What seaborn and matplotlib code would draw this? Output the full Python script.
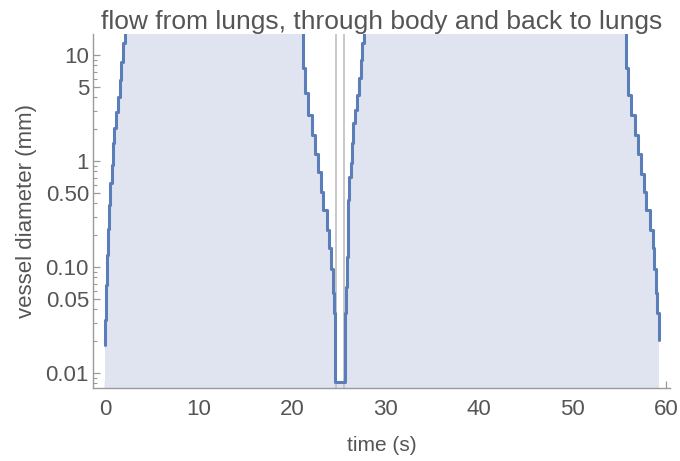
import matplotlib
matplotlib.use("Agg")
import matplotlib.pyplot as plt
import matplotlib.ticker as mticker
import numpy as np
import pandas as pd
import seaborn as sns

# step data: each point is (end of flat, diameter on that flat), drawn steps-pre
TOP = 30.0  # heart / aorta, off the chart

pulm_vein_t = [0.0, 0.07, 0.18, 0.29, 0.43, 0.57, 0.72, 0.82, 1.00, 1.18,
               1.36, 1.60, 1.71, 1.89, 2.11]
pulm_vein_d = [0.0184, 0.0316, 0.0676, 0.130, 0.228, 0.385, 0.620, 0.916, 1.48, 2.05,
               2.90, 4.02, 5.81, 8.59, 12.98]

arterial_t = [21.14, 21.39, 21.74, 22.11, 22.46, 22.81, 23.07, 23.35, 23.71, 23.99,
              24.20, 24.35, 24.49, 24.57, 24.63, 25.67]
arterial_d = [TOP, 7.50, 4.35, 2.72, 1.76, 1.18, 0.79, 0.513, 0.345, 0.223,
              0.150, 0.097, 0.0565, 0.0366, 0.0197, 0.00828]

venous_t = [25.72, 25.78, 25.85, 25.94, 26.02, 26.13, 26.28, 26.39, 26.56, 26.74,
            26.92, 27.20, 27.35, 27.52, 27.73, 55.72]
venous_d = [0.0197, 0.0368, 0.0647, 0.124, 0.238, 0.429, 0.706, 0.957, 1.48, 2.28,
            3.03, 4.19, 6.07, 8.97, 12.98, TOP]

pulm_art_t = [55.97, 56.33, 56.68, 57.04, 57.40, 57.68, 57.93, 58.29, 58.58, 58.75,
              58.93, 59.11, 59.25, 59.25]
pulm_art_d = [7.50, 4.19, 2.72, 1.76, 1.18, 0.762, 0.513, 0.345, 0.223, 0.150,
              0.097, 0.0565, 0.0366, 0.0205]

capillary_marks = [24.67, 25.59]

x_ticks = [0, 10, 20, 30, 40, 50, 60]
y_ticks = [0.01, 0.05, 0.1, 0.5, 1, 5, 10]
y_tick_labels = ["0.01", "0.05", "0.10", "0.50", "1", "5", "10"]

df = pd.DataFrame({
    "time": pulm_vein_t + arterial_t + venous_t + pulm_art_t,
    "diameter": pulm_vein_d + arterial_d + venous_d + pulm_art_d,
})

sns.set_theme(style="ticks")
plt.rcParams["font.family"] = ["Liberation Sans", "DejaVu Sans"]

text_col = "#555555"
axis_col = "#9a9a9a"
line_col = "#5b7db8"
fill_col = "#dfe4f0"

fig = plt.figure(figsize=(6.8, 4.61), dpi=100)
ax = fig.add_axes([0.137, 0.158, 0.848, 0.768])

ylo, yhi = 0.00721, 15.8
ax.set_yscale("log")
ax.set_xlim(-1.28, 60.43)
ax.set_ylim(ylo, yhi)

ax.fill_between(df["time"], df["diameter"], ylo, step="pre",
                color=fill_col, linewidth=0, zorder=1)
for t in capillary_marks:
    ax.axvline(t, color="#c4c4c4", lw=1.3, zorder=2)
sns.lineplot(data=df, x="time", y="diameter", ax=ax, sort=False, estimator=None,
             drawstyle="steps-pre", color=line_col, lw=2.2, zorder=3)

ax.set_xticks(x_ticks)
ax.xaxis.set_minor_locator(mticker.MultipleLocator(2))
ax.set_yticks(y_ticks)
ax.set_yticklabels(y_tick_labels)
ax.yaxis.set_minor_locator(mticker.LogLocator(base=10, subs=np.arange(2, 10)))
ax.yaxis.set_minor_formatter(mticker.NullFormatter())

for side in ["top", "right"]:
    ax.spines[side].set_visible(False)
for side in ["left", "bottom"]:
    ax.spines[side].set_color(axis_col)
    ax.spines[side].set_linewidth(1.0)

ax.tick_params(which="major", direction="in", length=5, width=0.9,
               color=axis_col, labelcolor=text_col, labelsize=16)
ax.tick_params(which="minor", direction="in", length=3, width=0.8, color=axis_col)
ax.tick_params(axis="x", which="major", pad=8)
ax.tick_params(axis="y", which="major", pad=3)

ax.set_xlabel("time (s)", fontsize=15, color=text_col, labelpad=11)
ax.set_ylabel("vessel diameter (mm)", fontsize=16, color=text_col, labelpad=6)
ax.set_title("flow from lungs, through body and back to lungs",
             fontsize=19, color=text_col, pad=4)

fig.savefig("out.png", dpi=100)
